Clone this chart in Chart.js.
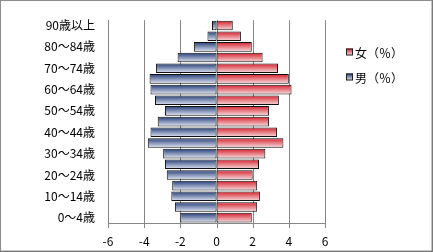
<!DOCTYPE html>
<html><head><meta charset="utf-8">
<script src="https://cdn.jsdelivr.net/npm/chart.js@4.4.1/dist/chart.umd.min.js"></script>
<style>html,body{margin:0;padding:0;background:#fff;}#wrap{width:433px;height:252px;position:relative;}</style>
</head><body><div id="wrap"><canvas id="c" width="433" height="252"></canvas></div>
<script>
const categories = ["0～4歳","5～9歳","10～14歳","15～19歳","20～24歳","25～29歳","30～34歳","35～39歳","40～44歳","45～49歳","50～54歳","55～59歳","60～64歳","65～69歳","70～74歳","75～79歳","80～84歳","85～89歳","90歳以上"];
const maleValues = [-2.0,-2.3,-2.5,-2.45,-2.75,-2.85,-2.95,-3.8,-3.65,-3.25,-2.85,-3.4,-3.65,-3.7,-3.35,-2.15,-1.25,-0.5,-0.25];
const femaleValues = [1.95,2.25,2.4,2.25,2.0,2.35,2.7,3.7,3.35,2.9,2.9,3.45,4.15,4.0,3.4,2.55,1.95,1.35,0.9];
const xTickStep = 2;
const xMin = -6, xMax = 6;
const seriesNames = {female:"女（％）", male:"男（％）"};

const FONT = '"Noto Sans CJK JP", sans-serif';
const BAR_PCT = 0.9;

function barGradient(ctx, top, bottom, dark, light) {
  const g = ctx.createLinearGradient(0, top, 0, bottom);
  g.addColorStop(0, dark);
  g.addColorStop(1, light);
  return g;
}
const palettes = {
  male: ['#243d78', '#e3e8f3'],
  female: ['#d41e2a', '#f8e0e2']
};
function scriptedFill(kind) {
  return function(context) {
    const chart = context.chart;
    const ys = chart.scales && chart.scales.y;
    if (!chart.chartArea || !ys || context.dataIndex === undefined) return palettes[kind][0];
    const c = ys.getPixelForValue(context.dataIndex);
    const slot = chart.chartArea.height / categories.length;
    const h = slot * BAR_PCT / 2;
    return barGradient(chart.ctx, c - h, c + h, palettes[kind][0], palettes[kind][1]);
  };
}

const gridPlugin = {
  id: 'vgrid',
  beforeDatasetsDraw(chart) {
    const ctx = chart.ctx, xs = chart.scales.x, a = chart.chartArea;
    ctx.save();
    ctx.strokeStyle = '#868686';
    ctx.lineWidth = 1;
    ctx.beginPath();
    for (let v = xMin; v <= xMax; v += xTickStep) {
      const x = Math.round(xs.getPixelForValue(v)) + 0.5;
      ctx.moveTo(x, a.top); ctx.lineTo(x, a.bottom + 5);
    }
    ctx.stroke();
    ctx.restore();
  }
};

const framePlugin = {
  id: 'frame',
  afterDraw(chart) {
    const ctx = chart.ctx;
    ctx.save();
    ctx.strokeStyle = '#8c8c8c';
    ctx.lineWidth = 1;
    ctx.strokeRect(0.5, 0.5, 431.5, 250.5);
    ctx.strokeStyle = '#7a7a7a';
    ctx.beginPath(); ctx.moveTo(432.5, 0); ctx.lineTo(432.5, 252); ctx.moveTo(0, 251.5); ctx.lineTo(433, 251.5); ctx.stroke();
    const items = [
      {name: seriesNames.female, pal: palettes.female, y: 52},
      {name: seriesNames.male, pal: palettes.male, y: 77}
    ];
    ctx.font = '12px ' + FONT;
    ctx.textBaseline = 'middle';
    ctx.textAlign = 'left';
    items.forEach(it => {
      const x = 346, s = 7;
      ctx.fillStyle = barGradient(ctx, it.y - s/2, it.y + s/2, it.pal[0], it.pal[1]);
      ctx.fillRect(x, it.y - s/2, s, s);
      ctx.strokeStyle = '#222';
      ctx.strokeRect(x + 0.5, it.y - s/2 + 0.5, s - 1, s - 1);
      ctx.fillStyle = '#000';
      ctx.fillText(it.name, x + s + 2, it.y + 1);
    });
    ctx.restore();
  }
};

new Chart(document.getElementById('c'), {
  type: 'bar',
  data: {
    labels: categories,
    datasets: [
      {label: seriesNames.male, data: maleValues, backgroundColor: scriptedFill('male'), borderColor: '#111', borderWidth: 1, borderSkipped: false, barPercentage: BAR_PCT, categoryPercentage: 1},
      {label: seriesNames.female, data: femaleValues, backgroundColor: scriptedFill('female'), borderColor: '#111', borderWidth: 1, borderSkipped: false, barPercentage: BAR_PCT, categoryPercentage: 1}
    ]
  },
  options: {
    indexAxis: 'y',
    responsive: false,
    animation: false,
    devicePixelRatio: 1,
    layout: {padding: {left: 0, top: 15, right: 108, bottom: 0}},
    plugins: {legend: {display: false}, tooltip: {enabled: false}},
    scales: {
      x: {
        stacked: true, min: xMin, max: xMax,
        afterFit(scale) { scale.height = 29; },
        grid: {display: false},
        border: {color: '#868686', width: 1},
        ticks: {stepSize: xTickStep, color: '#000', font: {family: FONT, size: 12}, padding: 3, maxRotation: 0}
      },
      y: {
        stacked: true, reverse: true,
        afterFit(scale) { scale.width = 108; },
        grid: {display: false, drawTicks: false},
        border: {color: '#868686', width: 1},
        ticks: {color: '#000', font: {family: FONT, size: 12}, padding: 13, autoSkip: false,
          callback(v, i) { return i % 2 === 0 ? categories[i] : ''; }}
      }
    }
  },
  plugins: [gridPlugin, framePlugin]
});
</script></body></html>
